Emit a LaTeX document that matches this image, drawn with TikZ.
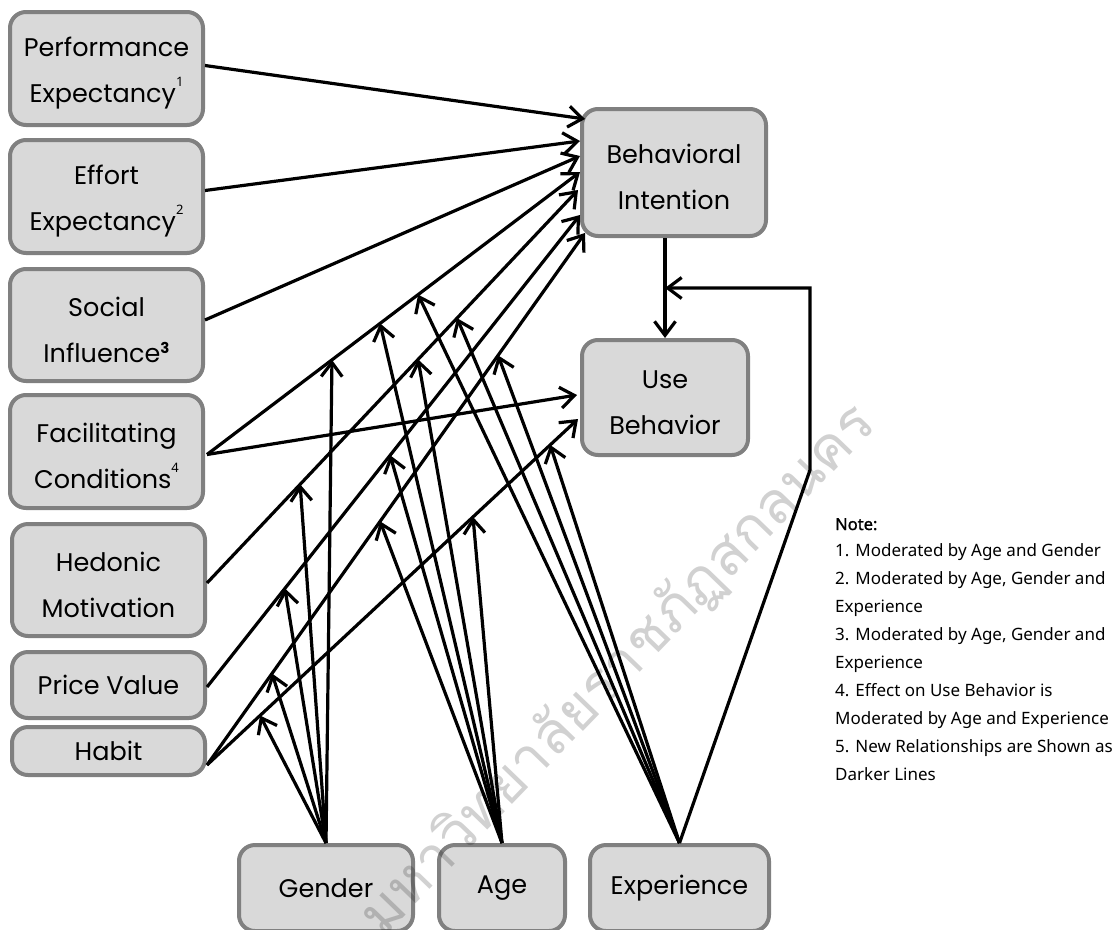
\documentclass[tikz,border=0pt]{standalone}
\usepackage{fontspec}
\setmainfont{Poppins}
\newfontfamily\notefont{Noto Sans}
\newfontfamily\notebold[FakeBold=1.2]{Noto Sans}
\newfontfamily\thaifont[Script=Thai]{Loma}
\usetikzlibrary{arrows.meta,calc}
\definecolor{boxfill}{HTML}{D9D9D9}
\definecolor{boxline}{HTML}{808080}
\newcommand\supnum[1]{\raisebox{16pt}{\notefont\fontsize{13}{13}\selectfont #1}}
\newcommand\topstrut{\rule{0pt}{29pt}}
\begin{document}
\begin{tikzpicture}[x=1pt,y=-1pt,
  box/.style={draw=boxline, line width=4pt, fill=boxfill, rounded corners=16pt,
    inner sep=0pt, align=center, font=\fontsize{25.5}{46}\selectfont},
  arr/.style={line width=3.2pt, -{Straight Barb[length=14pt,width=21pt]}},
  note/.style={anchor=base west, inner sep=0pt, font=\notefont\fontsize{17}{17}\selectfont}]
\fill[white] (0,0) rectangle (1115,929);
\useasboundingbox (0,0) rectangle (1115,929);
% boxes
\node[box, minimum width=193pt, minimum height=113pt] (pe) at (106.5,68.5) {\topstrut Performance\\Expectancy\supnum{1}};
\node[box, minimum width=193pt, minimum height=113pt] (ee) at (106.5,196.5) {\topstrut Effort\\Expectancy\supnum{2}};
\node[box, minimum width=193pt, minimum height=112pt] (si) at (106.5,325) {\topstrut Social\\Influence\raisebox{9pt}{\fontsize{15}{15}\selectfont\bfseries 3}};
\node[box, minimum width=193pt, minimum height=113pt] (fc) at (106.5,451.5) {\topstrut Facilitating\\Conditions\supnum{4}};
\node[box, minimum width=193pt, minimum height=112pt] (hm) at (108.5,580) {\topstrut Hedonic\\Motivation};
\node[box, minimum width=193pt, minimum height=66pt] (pv) at (108.5,685) {Price Value};
\node[box, minimum width=193pt, minimum height=48pt] (hb) at (108.5,751) {Habit};
\node[box, minimum width=184pt, minimum height=127pt] (bi) at (674,172.5) {\topstrut Behavioral\\Intention};
\node[box, minimum width=166pt, minimum height=115pt] (ub) at (665,397.5) {\topstrut Use\\Behavior};
\node[box, minimum width=174pt, minimum height=86pt] (gender) at (326,888) {Gender};
\node[box, minimum width=126pt, minimum height=86pt] (age) at (502,888) {Age};
\node[box, minimum width=179pt, minimum height=86pt] (exp) at (679.5,888) {Experience};
% start and end points
\coordinate (sPE) at ($(pe.east)+(0,-3)$);
\coordinate (sEE) at ($(ee.east)+(0,-6)$);
\coordinate (sSI) at ($(si.east)+(0,-5)$);
\coordinate (sFC) at ($(fc.east)+(2,3)$);
\coordinate (sHM) at ($(hm.east)+(0,3)$);
\coordinate (sPV) at ($(pv.east)+(0,2)$);
\coordinate (sHB) at ($(hb.east)+(0,14)$);
\coordinate (tPE) at (585,119);
\coordinate (tEE) at (580,141);
\coordinate (tSI) at (580,156);
\coordinate (tFC) at (580,172);
\coordinate (tHM) at (578,190);
\coordinate (tPV) at (580,215);
\coordinate (tHB) at (585,233);
\coordinate (uFC) at (577,395);
\coordinate (uHB) at (578,419);
% main arrows
\draw[arr] (sPE) -- (tPE);
\draw[arr] (sEE) -- (tEE);
\draw[arr] (sSI) -- (tSI);
\draw[arr] (sFC) -- (tFC);
\draw[arr] (sHM) -- (tHM);
\draw[arr] (sPV) -- (tPV);
\draw[arr] (sHB) -- (tHB);
\draw[arr] (sFC) -- (uFC);
\draw[arr] (sHB) -- (uHB);
\draw[arr] (ub.north |- bi.south) -- (ub.north);
% points on the lines
\path (sFC) -- (tFC) coordinate[pos=0.335] (mFC1) coordinate[pos=0.464] (mFC2) coordinate[pos=0.566] (mFC3);
\path (sHM) -- (tHM) coordinate[pos=0.251] (mHM1) coordinate[pos=0.569] (mHM2) coordinate[pos=0.674] (mHM3);
\path (sPV) -- (tPV) coordinate[pos=0.209] (mPV1) coordinate[pos=0.491] (mPV2);
\path (sHB) -- (tHB) coordinate[pos=0.172] (mHB1) coordinate[pos=0.458] (mHB2) coordinate[pos=0.770] (mHB3);
\path (sHB) -- (uHB) coordinate[pos=0.143] (mHU1) coordinate[pos=0.717] (mHU2) coordinate[pos=0.925] (mHU3);
% moderators
\foreach \t in {mFC1,mHM1,mPV1,mHB1,mHU1} \draw[arr] (gender.north) -- (\t);
\foreach \t in {mFC2,mHM2,mPV2,mHB2,mHU2} \draw[arr] (age.north) -- (\t);
\foreach \t in {mFC3,mHM3,mHB3,mHU3} \draw[arr] (exp.north) -- (\t);
\coordinate (fb) at ($(ub.north |- bi.south)!0.5!(ub.north)$);
\coordinate (c1) at (810,470);
\draw[arr] (exp.north) -- (c1) -- (c1 |- fb) -- (fb);
% note
\node[note, font=\notebold\fontsize{16.5}{16.5}\selectfont] (n0) at (835,530) {Note:};
\node[note] (n1) at (835,556) {1. Moderated by Age and Gender};
\node[note] (n2) at (835,584) {2. Moderated by Age, Gender and};
\node[note] (n3) at (835,612) {Experience};
\node[note] (n4) at (835,640) {3. Moderated by Age, Gender and};
\node[note] (n5) at (835,668) {Experience};
\node[note] (n6) at (835,696) {4. Effect on Use Behavior is};
\node[note] (n7) at (835,724) {Moderated by Age and Experience};
\node[note] (n8) at (835,752) {5. New Relationships are Shown as};
\node[note] (n9) at (835,780) {Darker Lines};
% watermark
\node[rotate=46, text=black, opacity=0.18, inner sep=0pt, font=\thaifont\fontsize{58}{58}\selectfont] (wm) at (618,670) {มหาวิทยาลัยราชภัฏสกลนคร};
\end{tikzpicture}
\end{document}
